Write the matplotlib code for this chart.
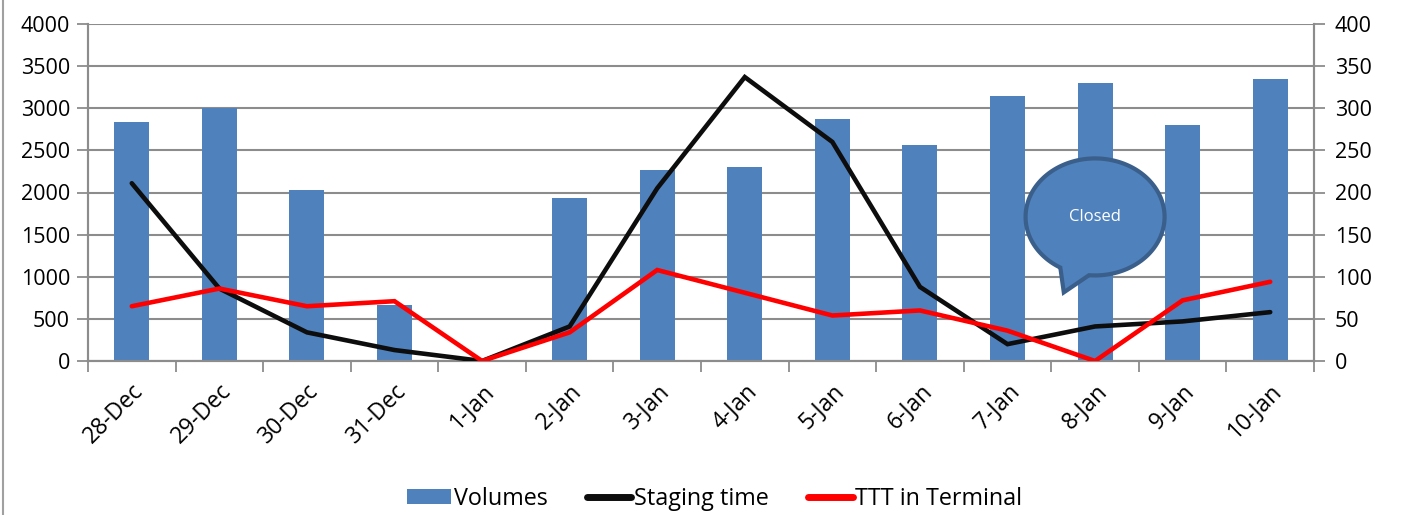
import numpy as np
import matplotlib
matplotlib.use("Agg")
import matplotlib.pyplot as plt
from matplotlib.path import Path
from matplotlib.patches import PathPatch
from matplotlib.lines import Line2D

days = ['28-Dec', '29-Dec', '30-Dec', '31-Dec', '1-Jan', '2-Jan', '3-Jan',
        '4-Jan', '5-Jan', '6-Jan', '7-Jan', '8-Jan', '9-Jan', '10-Jan']
volumes = [2840, 3000, 2030, 665, 0, 1940, 2270, 2305, 2875, 2565, 3150, 3295, 2800, 3345]
staging_time = [211, 86, 34, 13, 0, 41, 205, 337, 260, 88, 20, 41, 47, 58]
ttt_terminal = [65, 86, 65, 71, 0, 34, 108, 81, 54, 60, 36, 0, 72, 94]

closed_day = '8-Jan'

BAR = '#4F81BD'
GRID = '#8C8C8C'

plt.rcParams['font.family'] = ['Open Sans', 'DejaVu Sans']

fig = plt.figure(figsize=(14.01, 5.15), dpi=100)
ax = fig.add_axes([88 / 1401, 154 / 515, 1226 / 1401, 337 / 515])
ax2 = ax.twinx()

x = np.arange(len(days))
bars = ax.bar(x, volumes, width=0.4, color=BAR, label='Volumes', zorder=2)
l1, = ax2.plot(x, staging_time, color='#0D0D0D', lw=3.3, label='Staging time',
               solid_capstyle='round', solid_joinstyle='miter', zorder=3)
l2, = ax2.plot(x, ttt_terminal, color='#FF0000', lw=3.3, label='TTT in Terminal',
               solid_capstyle='round', solid_joinstyle='miter', zorder=3)

ax.set_xlim(-0.5, len(days) - 0.5)
ax.set_ylim(0, 4000)
ax2.set_ylim(0, 400)
ax.set_yticks(np.arange(0, 4001, 500))
ax2.set_yticks(np.arange(0, 401, 50))
ax.yaxis.grid(True, color=GRID, lw=1.5, zorder=0)
ax.set_axisbelow(True)

ax.set_xticks(x)
ax.set_xticklabels(days, rotation=45, ha='right', rotation_mode='anchor')
ax.set_xticks(np.arange(-0.5, len(days), 1), minor=True)
ax.tick_params(axis='x', which='major', length=0, pad=13, labelsize=16.5)
ax.tick_params(axis='x', which='minor', length=8, width=1.3, color=GRID)
ax.tick_params(axis='y', length=8, width=1.3, color=GRID, labelsize=15.5, pad=5)
ax2.tick_params(axis='y', length=8, width=1.3, color=GRID, labelsize=15.5, pad=7)

for a in (ax, ax2):
    a.spines['top'].set_visible(False)
    for side in ('left', 'right', 'bottom'):
        a.spines[side].set_color(GRID)
        a.spines[side].set_linewidth(1.5)

# callout bubble "Closed"
fig.canvas.draw()
ci = days.index(closed_day)
cx, cy = ax.transData.transform((ci, 1710))
a_r, b_r = 69.5, 58.5
t1, t2 = np.deg2rad(265), np.deg2rad(240)
ts = np.linspace(t1, t2 + 2 * np.pi, 200)
pts = [(cx + a_r * np.cos(t), cy + b_r * np.sin(t)) for t in ts]
pts.append((cx - 0.45 * a_r, cy - 1.29 * b_r))
pts.append(pts[0])
codes = [Path.MOVETO] + [Path.LINETO] * (len(pts) - 2) + [Path.CLOSEPOLY]
bubble = PathPatch(Path(pts, codes), facecolor=BAR, edgecolor='#3A5F8B', lw=3,
                   transform=None, zorder=5)
fig.add_artist(bubble)
fig.text(cx / 1401, cy / 515, 'Closed', color='white', fontsize=12,
         ha='center', va='center', zorder=6)

leg = fig.legend([bars, l1, l2], ['Volumes', 'Staging time', 'TTT in Terminal'],
                 loc='center', bbox_to_anchor=(0.51, 16 / 515), ncol=3, frameon=False,
                 fontsize=16.8, handlelength=1.9, handletextpad=0.1, columnspacing=1.7,
                 handleheight=0.6)
for h in leg.legend_handles[1:]:
    h.set_linewidth(5)

fig.add_artist(Line2D([3 / 1401, 3 / 1401], [0, 1], color='#A0A0A0', lw=1.5))

fig.savefig('out.png', dpi=100)
